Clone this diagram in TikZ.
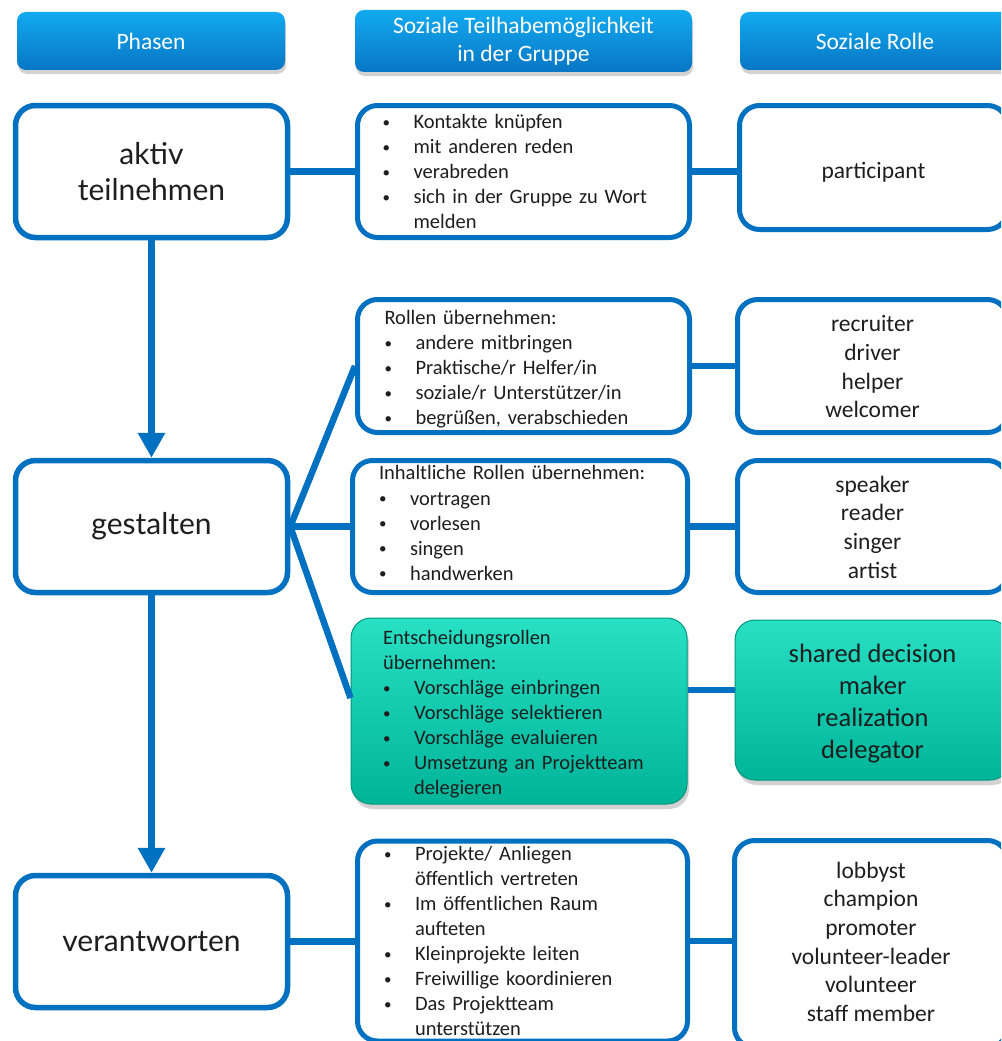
\documentclass[tikz,border=0pt]{standalone}
\usepackage{fontspec}
\setmainfont{Carlito}
\newfontfamily\phfont{Lato}
\usetikzlibrary{arrows.meta,shadows,calc}
\definecolor{bord}{RGB}{0,112,192}
\definecolor{txt}{RGB}{30,30,30}
\definecolor{hdtop}{RGB}{18,170,240}
\definecolor{hdbot}{RGB}{8,118,196}
\definecolor{tltop}{RGB}{40,224,196}
\definecolor{tlbot}{RGB}{0,180,152}
\definecolor{tlbord}{RGB}{0,150,128}
\newcommand{\bu}[1]{\makebox[31pt][l]{\raisebox{1.2pt}{\fontsize{15}{15}\selectfont •}}#1}
\newcommand{\cn}[1]{\hspace*{31pt}#1}
\newcommand{\rl}[2]{\raisebox{#1}[\height][\depth]{\begin{tabular}{@{}c@{}}#2\end{tabular}}}
\tikzset{
  header/.style={rounded corners=9pt, top color=hdtop, bottom color=hdbot, draw=none,
    text=white, align=center, font=\fontsize{23.5}{28}\selectfont, inner sep=0pt,
    drop shadow={shadow xshift=1pt, shadow yshift=-4pt, opacity=0.35}},
  phase/.style={draw=bord, line width=5.5pt, rounded corners=20pt, fill=white,
    align=center, font=\phfont\fontsize{30}{36}\selectfont, text=txt, inner sep=0pt},
  blist/.style={draw=bord, line width=5pt, rounded corners=20pt, fill=white,
    align=left, font=\fontsize{20.5}{25}\selectfont, text=txt, inner ysep=0pt},
  role/.style={draw=bord, line width=5pt, rounded corners=20pt, fill=white,
    align=center, font=\fontsize{23.5}{28.6}\selectfont, text=txt, inner sep=0pt},
  teal/.style={draw=tlbord, line width=1pt, rounded corners=20pt,
    top color=tltop, bottom color=tlbot, text=txt,
    drop shadow={shadow xshift=2pt, shadow yshift=-5pt, opacity=0.35}},
  conn/.style={draw=bord, line width=6.5pt},
  arr/.style={draw=bord, line width=6.5pt, -{Triangle[width=26pt,length=25pt]}},
}
\begin{document}
\begin{tikzpicture}[x=1pt,y=-1pt]
\useasboundingbox (0,0) rectangle (1001,1041);
\clip (0,0) rectangle (1001,1041);
\fill[white] (0,0) rectangle (1001,1041);
% headers
\node[header, minimum width=268pt, minimum height=58pt] (h1) at (151,41) {Phasen};
\node[header, minimum width=337pt, minimum height=62pt] (h2) at (523.5,41) {Soziale Teilhabemöglichkeit\\in der Gruppe};
\node[header, minimum width=270pt, minimum height=58pt] (h3) at (875,41) {Soziale Rolle};
% phases
\node[phase, minimum width=272pt, minimum height=132pt] (aktiv) at (151.5,171.5) {aktiv\\teilnehmen};
\node[phase, minimum width=272pt, minimum height=132pt] (gest) at (151.5,526.5) {gestalten};
\node[phase, minimum width=272pt, minimum height=132pt] (verant) at (151.5,941.5) {verantworten};
% middle column
\node[blist, minimum width=332pt, minimum height=132pt, inner xsep=25pt, text width=282pt] (r1) at (523.5,171.5)
 {\bu{Kontakte knüpfen}\\\bu{mit anderen reden}\\\bu{verabreden}\\\bu{sich in der Gruppe zu Wort}\\\cn{melden}};
\node[blist, minimum width=332pt, minimum height=133pt, inner xsep=27pt, text width=278pt] (r2) at (523.5,366)
 {Rollen übernehmen:\\\bu{andere mitbringen}\\\bu{Praktische/r Helfer/in}\\\bu{soziale/r Unterstützer/in}\\\bu{begrüßen, verabschieden}\par\vspace*{-7pt}};
\node[blist, minimum width=335pt, minimum height=132pt, inner xsep=26.5pt, text width=282pt] (r3) at (520,526.5)
 {Inhaltliche Rollen übernehmen:\\[1pt]\bu{vortragen}\\\bu{vorlesen}\\\bu{singen}\\\bu{handwerken}\par\vspace*{8pt}};
\node[teal, minimum width=336pt, minimum height=186pt, inner xsep=32pt, inner ysep=0pt, text width=272pt,
  align=left, font=\fontsize{20.5}{25}\selectfont] (r4) at (519,711)
 {Entscheidungsrollen\\übernehmen:\\\bu{Vorschläge einbringen}\\\bu{Vorschläge selektieren}\\\bu{Vorschläge evaluieren}\\\bu{Umsetzung an Projektteam}\\\cn{delegieren}\par\vspace*{-7pt}};
\node[blist, minimum width=330pt, minimum height=200pt, inner xsep=26.5pt, text width=277pt] (r5) at (522.5,941)
 {\bu{Projekte/ Anliegen}\\\cn{öffentlich vertreten}\\\bu{Im öffentlichen Raum}\\\cn{aufteten}\\\bu{Kleinprojekte leiten}\\\bu{Freiwillige koordinieren}\\\bu{Das Projektteam}\\\cn{unterstützen}};
% right column
\node[role, minimum width=268pt, minimum height=124pt] (p1) at (873.5,167.5) {\rl{-5pt}{participant}};
\node[role, minimum width=270pt, minimum height=133pt] (p2) at (872.5,366) {\rl{-3pt}{recruiter\\driver\\helper\\welcomer}};
\node[role, minimum width=270pt, minimum height=132pt] (p3) at (872.5,526.5) {\rl{-3pt}{speaker\\reader\\singer\\artist}};
\node[teal, minimum width=275pt, minimum height=160pt, inner sep=0pt, align=center,
  font=\fontsize{26.5}{32}\selectfont] (p4) at (872.5,700) {\rl{-4pt}{shared decision\\maker\\realization\\delegator}};
\node[role, minimum width=273pt, minimum height=207pt] (p5) at (871,944) {\rl{0pt}{lobbyst\\champion\\promoter\\volunteer-leader\\volunteer\\staff member}};
% connectors
\draw[arr] (aktiv.south) -- (gest.north);
\draw[arr] (gest.south) -- (verant.north);
\draw[conn] (aktiv.east) -- (r1.west);
\draw[conn] (r1.east) -- (r1.east -| p1.west);
\draw[conn] (gest.east) -- (r2.west);
\draw[conn] (gest.east) -- (r3.west);
\draw[conn] (gest.east) -- ($(r4.west)+(0,-13)$);
\draw[conn] (r2.east) -- (p2.west);
\draw[conn] (r3.east) -- (p3.west);
\path ([yshift=10pt]p4.west) coordinate (c4);
\draw[conn] (c4 -| r4.east) -- (c4);
\draw[conn] (verant.east) -- (verant.east -| r5.west);
\draw[conn] (r5.east) -- (r5.east -| p5.west);
\end{tikzpicture}
\end{document}
